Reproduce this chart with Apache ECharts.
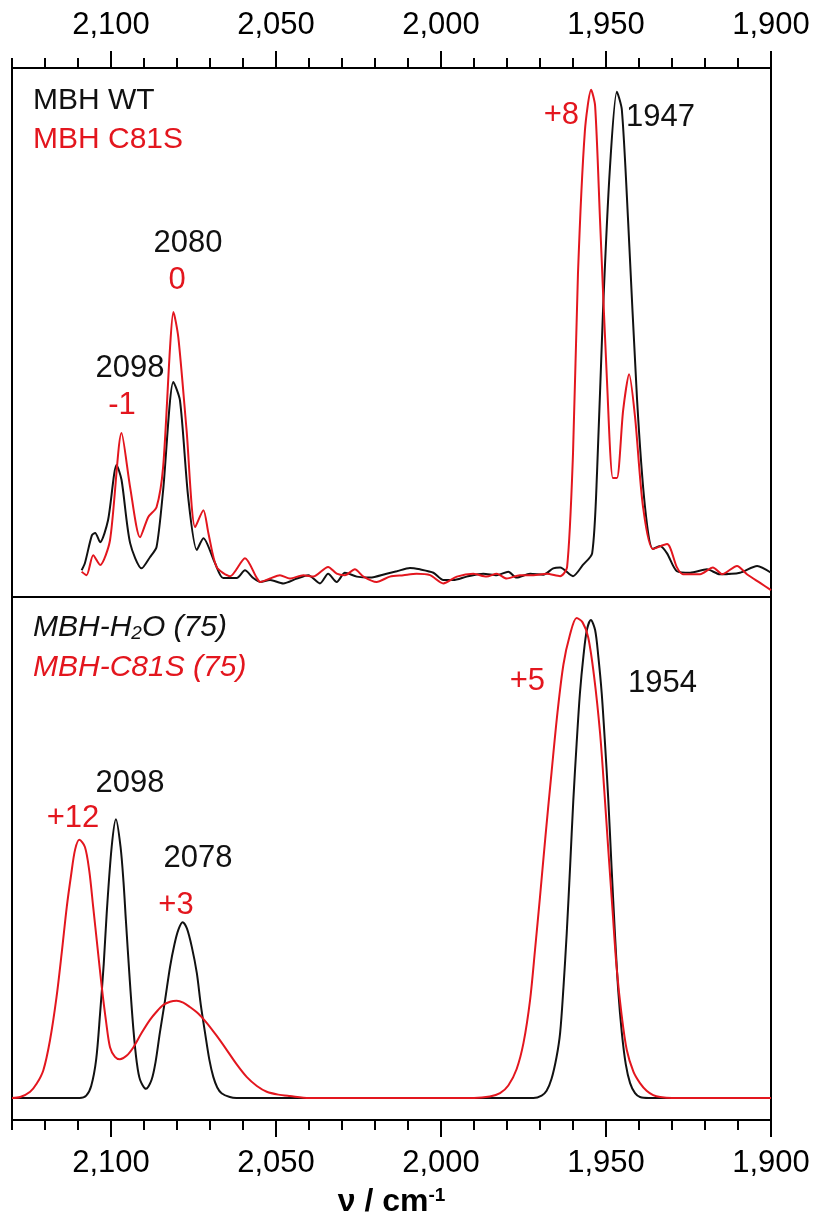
<!DOCTYPE html>
<html>
<head>
<meta charset="utf-8">
<script src="https://cdn.jsdelivr.net/npm/echarts@6/dist/echarts.min.js"></script>
<style>
  html, body { margin: 0; padding: 0; background: #fff; }
  #chart { width: 818px; height: 1222px; }
</style>
</head>
<body>
<div id="chart"></div>
<script>
// wavenumber (cm-1) / absorbance (arb., peak ~ 100)
const topWT = [
  [2108.9, 1.0], [2107.9, 2.5], [2105.8, 8.2], [2104.8, 8.7], [2103.3, 6.8], [2100.9, 11.3],
  [2098.3, 22.7], [2096.8, 19.6], [2094.2, 6.6], [2090.7, 1.4], [2088.2, 3.7], [2086.2, 5.8],
  [2084.2, 17.5], [2081.1, 39.8], [2079.1, 36.0], [2076.6, 16.0], [2074.0, 5.2], [2072.0, 7.6],
  [2068.5, 2.5], [2066.0, -0.6], [2061.9, -0.6], [2059.4, 1.0], [2056.9, -0.6], [2054.8, -1.4],
  [2051.8, -1.0], [2047.8, -1.7], [2043.7, -0.7], [2040.2, 0], [2036.7, -1.7], [2034.2, 0.3],
  [2031.6, -1.4], [2029.1, 0.5], [2025.5, -0.3], [2021.5, -0.5], [2016.5, 0.3], [2013.4, 0.8],
  [2009.4, 1.5], [2006.4, 1.2], [2002.3, 0.5], [1999.3, -1.0], [1996.3, -1.0], [1992.2, -0.3],
  [1987.2, 0.3], [1983.1, 0], [1979.6, 0.7], [1977.1, -0.5], [1973.0, 0.3], [1969.0, 0.1],
  [1966.0, 1.4], [1963.9, 1.6], [1960.0, -0.2], [1957.0, 2.1], [1954.2, 4.5], [1952.7, 21.4],
  [1950.9, 54.6], [1948.8, 84.0], [1946.7, 99.6], [1945.2, 95.9], [1943.3, 73.0], [1940.6, 36.3],
  [1938.2, 14.2], [1935.8, 5.4], [1933.6, 6.0], [1931.5, 4.5], [1928.5, 0.8], [1924.5, 0.5],
  [1919.4, 1.2], [1915.5, 0.2], [1909.4, 0.5], [1904.2, 1.9], [1900.0, 0.5]
];
const topC81S = [
  [2108.9, 0.7], [2107.4, 0], [2105.4, 4.1], [2103.3, 2.1], [2100.3, 7.2], [2096.8, 29.3],
  [2094.2, 18.1], [2091.2, 7.8], [2088.7, 12.0], [2086.2, 14.0], [2084.2, 22.3], [2082.1, 47.0],
  [2081.1, 54.2], [2079.6, 49.0], [2077.1, 29.9], [2074.5, 9.9], [2072.0, 13.4], [2070.5, 8.7],
  [2068.0, 1.7], [2063.9, -0.2], [2059.4, 3.5], [2055.8, -0.6], [2054.8, -1.4], [2051.8, -0.7],
  [2048.8, 0], [2045.8, -0.7], [2041.7, 0], [2038.7, -0.3], [2034.2, 1.7], [2031.6, 0.3],
  [2029.1, 0], [2026.1, 1.2], [2023.5, -0.3], [2019.5, -1.4], [2015.5, -0.3], [2011.4, 0],
  [2007.4, 0.3], [2003.3, 0], [1999.3, -1.7], [1995.2, -0.3], [1990.2, 0.3], [1986.2, -0.3],
  [1983.1, 0.3], [1980.1, -0.7], [1976.1, 0], [1972.0, 0], [1968.0, 0.3], [1963.9, -0.2],
  [1961.8, 1.6], [1960.0, 25.0], [1958.5, 62.0], [1956.4, 91.5], [1954.5, 100.0], [1953.3, 96.7],
  [1951.8, 73.0], [1949.7, 40.0], [1947.9, 20.0], [1946.7, 20.0], [1944.8, 34.0], [1943.0, 41.4],
  [1941.2, 32.6], [1938.8, 14.2], [1935.8, 5.4], [1931.5, 6.4], [1928.5, 1.6], [1926.7, 0.2],
  [1921.5, 0.2], [1917.6, 1.6], [1914.8, 0.2], [1910.3, 1.9], [1907.3, 0.2], [1903.3, -1.6],
  [1900.0, -3.1]
];
const fitH2O = [
  [2130, 0], [2109.5, 0], [2107.5, 0.5], [2106.0, 2.5], [2104.5, 8.0], [2103.3, 17.7],
  [2102.2, 28.0], [2101.3, 38.6], [2099.8, 52.4], [2098.5, 58.2], [2097.1, 52.4], [2096.2, 45.0],
  [2095.5, 37.2], [2094.3, 24.5], [2093.2, 14.2], [2092.2, 7.5], [2091.2, 3.8], [2089.4, 1.9],
  [2087.7, 3.8], [2086.5, 7.5], [2085.2, 13.6], [2083.6, 20.5], [2082.1, 27.4], [2080.8, 32.0],
  [2079.6, 35.1], [2078.3, 36.7], [2077.0, 35.4], [2075.5, 31.5], [2074.0, 26.1], [2072.8, 19.5],
  [2071.5, 13.6], [2070.2, 8.0], [2069.0, 4.4], [2067.8, 2.2], [2066.5, 1.0], [2064.0, 0.2],
  [2062.0, 0], [1972.0, 0], [1969.5, 0.5], [1968.0, 1.5], [1966.5, 4.0], [1965.0, 8.5],
  [1963.9, 13.6], [1962.9, 23.0], [1961.9, 34.4], [1960.9, 48.0], [1959.9, 62.2], [1958.9, 74.0],
  [1957.9, 84.5], [1956.8, 92.5], [1955.8, 97.7], [1954.6, 99.8], [1953.3, 97.7], [1952.3, 92.0],
  [1951.3, 84.5], [1950.3, 74.0], [1949.3, 62.2], [1948.3, 48.0], [1947.3, 34.4], [1946.3, 22.5],
  [1945.2, 13.6], [1944.0, 7.0], [1942.7, 3.1], [1941.2, 1.0], [1939.7, 0.2], [1937.0, 0], [1900, 0]
];
const fitC81S = [
  [2130, 0], [2127.5, 0.2], [2124.5, 1.3], [2122.5, 3.0], [2120.5, 5.8], [2118.5, 12.0],
  [2116.5, 21.1], [2114.9, 30.5], [2113.4, 39.9], [2112.1, 46.5], [2110.9, 51.8], [2109.6, 53.9],
  [2107.9, 52.4], [2106.6, 47.5], [2105.4, 39.9], [2104.1, 31.5], [2102.8, 23.2], [2101.5, 16.0],
  [2100.3, 10.6], [2098.8, 8.6], [2097.3, 8.1], [2095.3, 8.8], [2093.2, 10.6], [2090.7, 13.6],
  [2088.2, 16.3], [2086.2, 18.0], [2084.2, 19.4], [2082.1, 20.1], [2080.1, 20.3], [2078.1, 19.9],
  [2076.1, 19.0], [2073.5, 17.6], [2071.0, 15.7], [2068.0, 13.0], [2064.9, 10.0], [2061.9, 7.0],
  [2058.9, 4.4], [2055.8, 2.5], [2052.8, 1.3], [2049.3, 0.7], [2045.8, 0.4], [2040.0, 0],
  [1990.0, 0], [1985.2, 0.3], [1982.1, 1.0], [1979.6, 2.6], [1977.1, 6.0], [1975.0, 11.5],
  [1973.0, 20.5], [1971.5, 31.0], [1970.0, 42.0], [1968.3, 55.0], [1966.5, 68.0], [1964.7, 80.5],
  [1962.9, 90.5], [1961.0, 96.5], [1958.9, 100.2], [1957.1, 99.3], [1955.4, 96.2], [1953.6, 88.0],
  [1951.8, 76.2], [1950.5, 64.0], [1949.3, 51.8], [1948.0, 39.0], [1946.8, 27.4], [1945.3, 17.5],
  [1943.7, 10.0], [1941.7, 5.5], [1939.7, 3.1], [1937.7, 1.5], [1935.7, 0.6], [1933.6, 0.2],
  [1930.0, 0], [1900, 0]
];
const majorTicks = [2100, 2050, 2000, 1950, 1900];
const minorTicks = [2130, 2120, 2110, 2090, 2080, 2070, 2060, 2040, 2030, 2020, 2010,
  1990, 1980, 1970, 1960, 1940, 1930, 1920, 1910];

const RED = '#e3161e';
const BLACK = '#111111';
const FONT = '"Liberation Sans", Arial, Helvetica, sans-serif';

const chart = echarts.init(document.getElementById('chart'));

function tickAxis(grid, pos, values, len, withLabels) {
  return {
    type: 'value', gridIndex: grid, position: pos, min: 1900, max: 2130, inverse: true,
    axisLine: { show: false, onZero: false }, splitLine: { show: false },
    axisTick: { show: true, customValues: values, length: len, lineStyle: { color: '#000', width: 2 } },
    axisLabel: withLabels ? {
      show: true, customValues: values, margin: pos === 'top' ? 27 : 28,
      color: '#000', fontSize: 31, fontFamily: FONT,
      formatter: v => v.toLocaleString('en-US')
    } : { show: false }
  };
}

const bottomMain = tickAxis(1, 'bottom', majorTicks, 17, true);
bottomMain.name = '{a|ν / cm}{b|-1}';
bottomMain.nameLocation = 'middle';
bottomMain.nameGap = 66;
bottomMain.nameTextStyle = {
  rich: {
    a: { fontSize: 32, fontWeight: 'bold', fontFamily: FONT, color: '#000' },
    b: { fontSize: 19, fontWeight: 'bold', fontFamily: FONT, color: '#000', verticalAlign: 'top' }
  }
};

function lineSeries(data, color, xi, yi, smooth) {
  return {
    type: 'line', data: data, xAxisIndex: xi, yAxisIndex: yi, showSymbol: false,
    smooth: smooth,
    lineStyle: { color: color, width: 2 }, itemStyle: { color: color }, animation: false
  };
}

function txt(x, y, text, color, align, font) {
  return {
    type: 'text', x: x, y: y, silent: true,
    style: { text: text, fill: color, font: font || ('31px ' + FONT), align: align || 'center', verticalAlign: 'middle' }
  };
}

const italic = 'italic 30px ' + FONT;

chart.setOption({
  backgroundColor: '#fff',
  animation: false,
  grid: [
    { left: 12, width: 759, top: 68, height: 529, show: true, borderColor: '#000', borderWidth: 2, backgroundColor: 'transparent' },
    { left: 12, width: 759, top: 597, height: 523, show: true, borderColor: '#000', borderWidth: 2, backgroundColor: 'transparent' }
  ],
  xAxis: [
    tickAxis(0, 'top', majorTicks, 17, true),
    tickAxis(0, 'top', minorTicks, 10, false),
    bottomMain,
    tickAxis(1, 'bottom', minorTicks, 10, false)
  ],
  yAxis: [
    { type: 'value', gridIndex: 0, min: -4.5, max: 104.5, show: false },
    { type: 'value', gridIndex: 1, min: -4.6, max: 104.6, show: false }
  ],
  series: [
    lineSeries(topWT, BLACK, 0, 0, 0.25),
    lineSeries(topC81S, RED, 0, 0, 0.25),
    lineSeries(fitH2O, BLACK, 2, 1, 0.3),
    lineSeries(fitC81S, RED, 2, 1, 0.3)
  ],
  graphic: [
    txt(33, 101, 'MBH WT', BLACK, 'left', '30px ' + FONT),
    txt(33, 140, 'MBH C81S', RED, 'left', '30px ' + FONT),
    txt(188, 243, '2080', BLACK),
    txt(177, 280, '0', RED),
    txt(130, 368, '2098', BLACK),
    txt(122, 405, '-1', RED),
    txt(579, 115, '+8', RED, 'right'),
    txt(626, 117, '1947', BLACK, 'left'),
    {
      type: 'text', x: 33, y: 628, silent: true,
      style: {
        text: '{a|MBH-H}{s|2}{a|O (75)}', verticalAlign: 'middle', align: 'left',
        rich: {
          a: { font: italic, fill: BLACK },
          s: { font: 'italic 19px ' + FONT, fill: BLACK, verticalAlign: 'bottom' }
        }
      }
    },
    txt(33, 668, 'MBH-C81S (75)', RED, 'left', italic),
    txt(130, 783, '2098', BLACK),
    txt(73, 818, '+12', RED),
    txt(198, 858, '2078', BLACK),
    txt(176, 905, '+3', RED),
    txt(545, 681, '+5', RED, 'right'),
    txt(628, 683, '1954', BLACK, 'left')
  ]
});
</script>
</body>
</html>
